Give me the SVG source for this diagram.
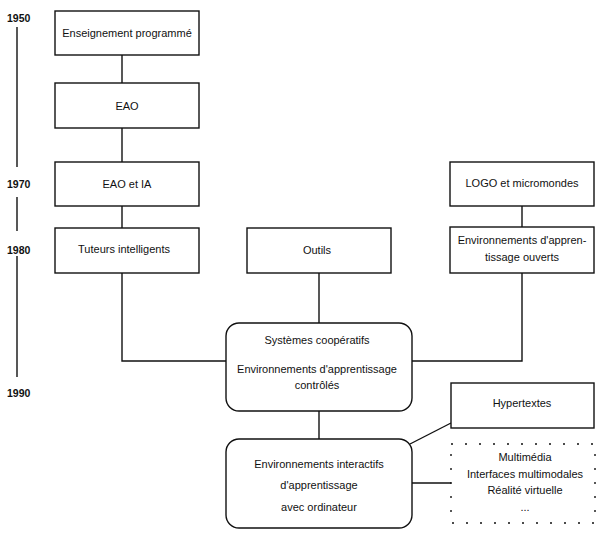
<svg xmlns="http://www.w3.org/2000/svg" width="603" height="534" viewBox="0 0 603 534">
<style>
.bx{fill:#fff;stroke:#111;stroke-width:1.4}
.ln{fill:none;stroke:#111;stroke-width:1.4}
.dot{fill:none;stroke:#111;stroke-width:1.4;stroke-dasharray:2 12}
text{font-family:"Liberation Sans",Arial,sans-serif;font-size:11px;fill:#111;text-anchor:middle}
.yr{font-weight:bold;font-size:10.5px;text-anchor:start}
</style>
<rect width="603" height="534" fill="#fff"/>
<g id="timeline">
<text class="yr" x="7" y="22">1950</text>
<line class="ln" x1="17" y1="27" x2="17" y2="167"/>
<text class="yr" x="7" y="188">1970</text>
<line class="ln" x1="17" y1="197" x2="17" y2="231"/>
<text class="yr" x="7" y="254">1980</text>
<line class="ln" x1="17" y1="256" x2="17" y2="377"/>
<text class="yr" x="7" y="397">1990</text>
</g>
<g id="connectors">
<line class="ln" x1="122" y1="55" x2="122" y2="83"/>
<line class="ln" x1="122" y1="128" x2="122" y2="162"/>
<line class="ln" x1="122" y1="206" x2="122" y2="228"/>
<polyline class="ln" points="122,273 122,361 226,361"/>
<line class="ln" x1="319" y1="273" x2="319" y2="323"/>
<line class="ln" x1="522" y1="206" x2="522" y2="227"/>
<polyline class="ln" points="522,273 522,361 412,361"/>
<line class="ln" x1="319" y1="411" x2="319" y2="439"/>
<line class="ln" x1="410" y1="444" x2="451" y2="423"/>
<line class="ln" x1="412" y1="483" x2="451" y2="483"/>
</g>
<g id="n1"><rect class="bx" x="55" y="11" width="144" height="44"/><text x="127" y="37">Enseignement programmé</text></g>
<g id="n2"><rect class="bx" x="55" y="83" width="144" height="45"/><text x="127" y="110">EAO</text></g>
<g id="n3"><rect class="bx" x="55" y="162" width="144" height="44"/><text x="127" y="188">EAO et IA</text></g>
<g id="n4"><rect class="bx" x="55" y="228" width="144" height="45"/><text x="124" y="253">Tuteurs intelligents</text></g>
<g id="n5"><rect class="bx" x="247" y="228" width="144" height="45"/><text x="317" y="254">Outils</text></g>
<g id="n6"><rect class="bx" x="450" y="162" width="144" height="44"/><text x="522" y="187">LOGO et micromondes</text></g>
<g id="n7"><rect class="bx" x="450" y="227" width="144" height="46"/><text x="522" y="244">Environnements d'appren-</text><text x="522" y="261">tissage ouverts</text></g>
<g id="n8"><rect class="bx" x="226" y="323" width="186" height="88" rx="13"/><text x="317" y="344">Systèmes coopératifs</text><text x="317" y="373">Environnements d'apprentissage</text><text x="317" y="389">contrôlés</text></g>
<g id="n9"><rect class="bx" x="451" y="383" width="143" height="45"/><text x="522" y="407">Hypertextes</text></g>
<g id="n10"><rect class="bx" x="226" y="439" width="186" height="89" rx="13"/><text x="319" y="468">Environnements interactifs</text><text x="319" y="489">d'apprentissage</text><text x="319" y="511">avec ordinateur</text></g>
<g id="n11"><rect class="dot" x="451" y="444" width="144" height="79"/><text x="525" y="461">Multimédia</text><text x="525" y="478">Interfaces multimodales</text><text x="525" y="494">Réalité virtuelle</text><text x="525" y="511">...</text></g>
</svg>
